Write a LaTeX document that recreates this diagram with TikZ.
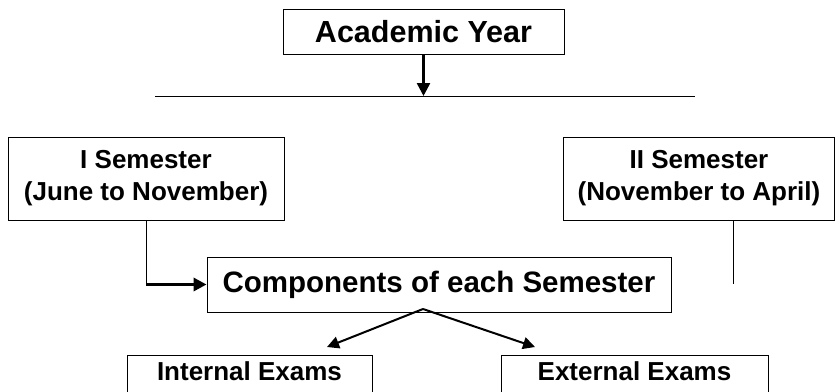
\documentclass[tikz,border=0pt]{standalone}
\usepackage{fontspec}
\setmainfont{Liberation Sans}
\usetikzlibrary{positioning,arrows.meta}

\tikzset{
	box/.style={draw,line width=0.9pt,inner sep=3pt,align=center,font=\bfseries\fontsize{26}{32}\selectfont},
	link/.style={line width=0.9pt},
	bigarrow/.style={-{Triangle[length=13pt,width=13pt]}}
}

\begin{document}
\begin{tikzpicture}[x=1pt,y=-1pt]
	\useasboundingbox (0,0) rectangle (835,391);
	\clip (0,0) rectangle (835,391);
	\node[box,minimum width=281pt,minimum height=45pt,font=\bfseries\fontsize{30.5}{32}\selectfont] (year) at (423.5,31.5) {Academic Year};
	\node[box,minimum width=276pt,minimum height=83pt] (isem) at (146,178.5) {I Semester\\(June to November)};
	\node[box,minimum width=271pt,minimum height=83pt] (iisem) at (699,178.5) {II Semester\\(November to April)};
	\node[box,minimum width=464pt,minimum height=55pt,font=\bfseries\fontsize{29.5}{32}\selectfont] (comp) at (439,284.5) {Components of each Semester};
	\node[box,anchor=north,minimum width=245pt,text height=22pt,text depth=30pt] (intl) at (249.5,355) {Internal Exams};
	\node[box,anchor=north,minimum width=267pt,text height=22pt,text depth=30pt] (extl) at (634.5,355) {External Exams};
	% dividing bar under the year
	\coordinate (barl) at (155,96);
	\coordinate (barr) at (695,96);
	\coordinate (barm) at (year.south |- barl);
	\draw[link] (barl) -- (barr);
	\draw[bigarrow,line width=2.5pt] (year) -- (barm);
	% semester lines
	\coordinate (corner) at (isem.south |- comp.west);
	\draw[link] (isem) -- (corner);
	\draw[bigarrow,line width=3.5pt] (corner) -- (comp.west);
	\coordinate (iitop) at ([xshift=34pt]iisem.south);
	\coordinate (iiend) at (733,284);
	\draw[link] (iitop) -- (iiend);
	% exams
	\coordinate (apex) at (423,309);
	\coordinate (intltip) at (327,347);
	\coordinate (extltip) at (535,347);
	\foreach \t in {intltip,extltip}{
			\draw[-{Triangle[length=12pt,width=12pt]},line width=2pt] (apex) -- (\t);
		}
\end{tikzpicture}
\end{document}
